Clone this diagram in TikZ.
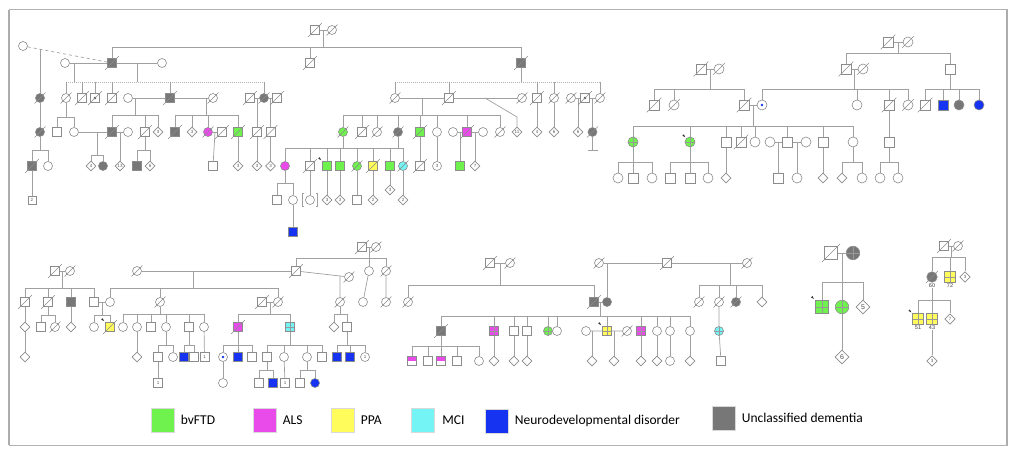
\documentclass[tikz,border=0pt]{standalone}
\usepackage{fontspec}
\setsansfont{Liberation Sans}
\newfontfamily\lgfont{Carlito}
\usepackage{tikz}
\usetikzlibrary{shapes}
\usetikzlibrary{shapes.geometric}
\usetikzlibrary{positioning}
\usetikzlibrary{backgrounds}

\definecolor{cBv}{HTML}{6FF24D}
\definecolor{cAl}{HTML}{E94BEA}
\definecolor{cPp}{HTML}{FFFC5C}
\definecolor{cMc}{HTML}{74F4F4}
\definecolor{cNd}{HTML}{1633F2}
\definecolor{cUd}{HTML}{777777}
\definecolor{cLn}{HTML}{A0A0A0}
\definecolor{cSy}{HTML}{8C8C8C}

% names of the deceased, slashed at the end
\gdef\dclist{}

\tikzset{
  sym/.style={draw=cSy, fill=white, line width=0.6pt, inner sep=0pt, minimum size=9pt},
  ml/.style={sym, rectangle},
  fe/.style={sym, circle},
  un/.style={sym, diamond, minimum size=10pt},
  md/.style={minimum size=10pt},
  sm/.style={minimum size=10.5pt},
  bg/.style={minimum size=13.5pt},
  bdi/.style={minimum size=14pt},
  bv/.style={fill=cBv}, al/.style={fill=cAl}, pp/.style={fill=cPp},
  mc/.style={fill=cMc}, nd/.style={fill=cNd}, ud/.style={fill=cUd},
  dc/.style={append after command={\pgfextra{%
      \ifx\dclist\empty\xdef\dclist{\tikzlastnode}\else\xdef\dclist{\dclist,\tikzlastnode}\fi}}},
  slash/.style={draw=cSy, line width=0.6pt},
  pb/.style={append after command={\pgfextra{\fill[black!80]
      ([shift={(-1,-1)}]\tikzlastnode.north west) -- ++(-3,-1.5) -- ++(1.5,-1.5) -- cycle;}}},
  cr/.style={path picture={\fill[#1] (path picture bounding box.center) circle (1.3pt);}},
  cr/.default=cNd,
  qd/.style={path picture={\draw[black!40, line width=0.4pt]
      (path picture bounding box.north) -- (path picture bounding box.south)
      (path picture bounding box.west) -- (path picture bounding box.east);}},
  hm/.style={path picture={\fill[cAl] (path picture bounding box.west) rectangle (path picture bounding box.north east);}},
  nm/.style={font=\sffamily\fontsize{4.5}{5}\selectfont, text=black!65},
  nm2/.style={font=\sffamily\fontsize{7}{8}\selectfont, text=black!70},
  lb/.style={font=\sffamily\fontsize{5.5}{6}\selectfont, text=black!75, inner sep=0.8pt, fill=white},
  ln/.style={draw=cLn, line width=0.7pt},
  lnd/.style={draw=cLn!80, line width=0.6pt, dash pattern=on 0.8pt off 1.2pt},
  frm/.style={draw=gray!60, line width=1pt},
  lgbox/.style={draw=gray!30, line width=0.3pt, minimum width=23pt, minimum height=24pt, inner sep=0pt},
  lgtxt/.style={font=\lgfont\fontsize{13.5}{16}\selectfont, inner sep=0pt}
}

\begin{document}
\begin{tikzpicture}[x=1pt, y=-1pt]
  \useasboundingbox (0,0) rectangle (1024,462);
  \begin{pgfonlayer}{background}
    \fill[white] (0,0) rectangle (1024,462);
  \end{pgfonlayer}
  \draw[frm] (9,10) rectangle (1007,445);
  \draw[gray!65, line width=2pt] (9,10) -- (9,445) (1007,10) -- (1007,445);

  % ---- large family, top left ----
  \node[ml,dc] (a1) at (315,30) {};
  \node[fe,dc] (a2) at (332,30) {};
  \node[fe] (a3) at (23,46) {};
  \node[fe] (a4) at (65,63) {};
  \node[ml,ud,dc] (a5) at (112,63) {};
  \node[fe] (a6) at (162,63) {};
  \node[ml,dc] (a7) at (310,63) {};
  \node[ml,ud,dc] (a8) at (521,63) {};

  \node[fe,ud,dc] (b1) at (40,98) {};
  \node[fe,dc] (b2) at (66,98) {};
  \node[ml,dc] (b3) at (82,98) {};
  \node[ml,dc,cr=black!70] (b4) at (95,98) {};
  \node[ml,dc] (b5) at (112,98) {};
  \node[fe] (b6) at (128,98) {};
  \node[ml,ud,dc] (b7) at (170,98) {};
  \node[fe,dc] (b8) at (213,98) {};
  \node[ml,dc] (b9) at (250,98) {};
  \node[fe,ud,dc] (b10) at (264,98) {};
  \node[ml,dc] (b11) at (277,98) {};
  \node[fe,dc] (b12) at (395,98) {};
  \node[ml,dc] (b13) at (449,98) {};
  \node[fe,dc] (b14) at (522,98) {};
  \node[ml,dc] (b15) at (537,98) {};
  \node[fe,dc] (b16) at (554,98) {};
  \node[fe,dc] (b17) at (571,98) {};
  \node[ml,dc,cr=black!70] (b18) at (585,98) {};
  \node[fe,dc] (b19) at (600,98) {};

  \node[fe,ud,dc] (c1) at (40,132) {};
  \node[ml] (c2) at (57,132) {};
  \node[fe] (c3) at (74,132) {};
  \node[ml,ud,dc] (c4) at (112,132) {};
  \node[fe] (c5) at (128,132) {};
  \node[ml,dc] (c6) at (145,132) {};
  \node[un,nm] (c7) at (158,132) {3};
  \node[ml,ud,dc] (c8) at (175,132) {};
  \node[un,nm] (c9) at (192,132) {3};
  \node[fe,al,dc] (c10) at (208,132) {};
  \node[ml,dc] (c11) at (222,132) {};
  \node[ml,bv,dc] (c12) at (238,132) {};
  \node[ml,dc] (c13) at (257,132) {};
  \node[ml,dc] (c14) at (270.5,132) {};
  \node[fe,bv,dc] (c15) at (343,132) {};
  \node[ml,dc] (c16) at (362,132) {};
  \node[fe,dc] (c17) at (377,132) {};
  \node[fe,ud,dc] (c18) at (398,132) {};
  \node[ml,bv,dc] (c19) at (420,132) {};
  \node[fe] (c20) at (437,132) {};
  \node[fe] (c21) at (453,132) {};
  \node[ml,al,dc] (c22) at (467,132) {};
  \node[fe] (c23) at (483,132) {};
  \node[fe,dc] (c24) at (500,132) {};
  \node[un,nm] (c25) at (517,132) {11};
  \node[un,nm] (c26) at (537,132) {4};
  \node[un,nm] (c27) at (554,132) {6};
  \node[un,nm] (c28) at (578,132) {6};
  \node[fe,ud,dc] (c29) at (592.5,132) {};

  \node[ml,ud,dc] (d1) at (32,166) {};
  \node[fe] (d2) at (48,166) {};
  \node[un,nm] (d3) at (91,166) {4};
  \node[fe,ud] (d4) at (103,166) {};
  \node[un,nm] (d5) at (120,166) {13};
  \node[ml,ud] (d6) at (137,166) {};
  \node[un,nm] (d7) at (150,166) {6};
  \node[ml] (d8) at (213,166) {};
  \node[un,nm] (d9) at (238,166) {3};
  \node[un,nm] (d10) at (257,166) {3};
  \node[un,nm] (d11) at (270.5,166) {3};
  \node[fe,al] (d12) at (285,166) {};
  \node[ml,dc] (d13) at (310,166) {};
  \node[ml,bv,pb] (d14) at (327,166) {};
  \node[ml,bv] (d15) at (340,166) {};
  \node[fe,bv,dc] (d16) at (357,166) {};
  \node[ml,pp,dc] (d17) at (373,166) {};
  \node[ml,bv] (d18) at (390,166) {};
  \node[fe,mc,dc] (d19) at (403,166) {};
  \node[ml,dc] (d20) at (420,166) {};
  \node[fe,nm] (d21) at (437,166) {3};
  \node[ml,bv] (d22) at (460,166) {};
  \node[un,nm] (d23) at (475,166) {7};

  \node[ml,nm,minimum size=8pt] (e1) at (32,200) {2};
  \node[ml] (e2) at (277,200) {};
  \node[fe] (e3) at (293,200) {};
  \node[fe] (e4) at (310,200) {};
  \node[un,nm] (e5) at (327,200) {3};
  \node[un,nm] (e6) at (340,200) {3};
  \node[ml] (e7) at (357,200) {};
  \node[un,nm] (e8) at (373,200) {2};
  \node[un,nm] (e9) at (390,190) {3};
  \node[un,nm] (e10) at (403,200) {2};
  \node[ml,nd] (f1) at (293,232) {};

  \begin{pgfonlayer}{background}
    \draw[ln] (a1) -- (a2);
    \coordinate (s0) at (323,47);
    \draw[ln] (s0) -- (s0 |- a1);
    \foreach \ch in {a5,a7,a8} \draw[ln] (s0) -| (\ch);
    \draw[ln,dashed] (a3) -- (a5);
    \coordinate (k1) at (40,49.5);
    \draw[ln] (k1) -- (b1) (b1) -- (c1);
    \coordinate (s1) at (40,150);
    \draw[ln] (c1) -- (s1);
    \foreach \ch in {d1,d2} \draw[ln] (s1) -| (\ch);
    \draw[ln] (d1) -- (e1);
    \draw[ln] (a4) -- (a5) (a5) -- (a6);
    \coordinate (s2) at (74,82);
    \coordinate (s3) at (137,82);
    \draw[ln] (s2) -- (s2 |- a4) (s3) -- (s3 |- a5);
    \draw[lnd] (b2 |- s2) -- (b10 |- s2);
    \foreach \ch in {b2,b3,b4,b5,b7,b10} \draw[ln] (\ch |- s2) -- (\ch);
    \draw[ln] (b6) -- (b7) (b7) -- (b8) (b9) -- (b10) (b10) -- (b11);
    \coordinate (s4) at (135,115);
    \draw[ln] (s4) -- (s4 |- b6);
    \foreach \ch in {c4,c6,c7} \draw[ln] (s4) -| (\ch);
    \coordinate (s5) at (206,115);
    \draw[ln] (s5) -- (s5 |- b7);
    \foreach \ch in {c8,c9,c10,c12} \draw[ln] (s5) -| (\ch);
    \coordinate (s6) at (66,117);
    \draw[ln] (b2) -- (s6);
    \foreach \ch in {c2,c3} \draw[ln] (s6) -| (\ch);
    \draw[ln] (c3) -- (c4) (c4) -- (c5);
    \coordinate (s7) at (97,155);
    \draw[ln] (s7) -- (s7 |- c3);
    \foreach \ch in {d3,d4} \draw[ln] (s7) -| (\ch);
    \coordinate (m1) at (120,132);
    \draw[ln] (m1) -- (d5);
    \coordinate (s8) at (145,150);
    \draw[ln] (c6) -- (s8);
    \foreach \ch in {d6,d7} \draw[ln] (s8) -| (\ch);
    \draw[ln] (c10) -- (c11);
    \coordinate (m2) at (215,132);
    \draw[ln] (m2) -- (d8);
    \draw[ln] (c12) -- (d9);
    \coordinate (m3) at (257,98);
    \coordinate (m4) at (270.5,98);
    \draw[ln] (m3) -- (c13) (m4) -- (c14) (c13) -- (d10) (c14) -- (d11);
    \draw[ln,double,double distance=1pt] (b12) -- (b13);
    \draw[ln] (b13) -- (b14);
    \coordinate (s9) at (521,82);
    \draw[ln] (a8) -- (s9);
    \draw[lnd] (b12 |- s9) -- (b19 |- s9);
    \foreach \ch in {b12,b13,b15,b16,b19} \draw[ln] (\ch |- s9) -- (\ch);
    \coordinate (s10) at (422,115);
    \draw[ln] (s10) -- (s10 |- b12);
    \foreach \ch in {c15,c16,c17,c18,c19,c20,c22,c24} \draw[ln] (s10) -| (\ch);
    \coordinate (k2) at (485,98);
    \coordinate (k3) at (517,117);
    \draw[ln] (k2) -- (k3) -- (c25);
    \draw[ln] (b15) -- (c26) (b16) -- (c27);
    \draw[ln] (b17) -- (b18) (b18) -- (b19);
    \coordinate (m5) at (578,98);
    \coordinate (m6) at (592.5,98);
    \draw[ln] (m5) -- (c28) (m6) -- (c29);
    \coordinate (t1) at (592.5,150);
    \draw[ln] (c29) -- (t1) ([xshift=-5pt]t1) -- ([xshift=5pt]t1);
    \draw[ln] (c21) -- (c22) (c22) -- (c23);
    \coordinate (m7) at (460,132);
    \coordinate (m8) at (475,132);
    \draw[ln] (m7) -- (d22) (m8) -- (d23);
    \coordinate (s11) at (343,148);
    \draw[ln] (c15) -- (s11) (c18) -- (c18 |- s11);
    \foreach \ch in {d12,d13,d14,d15,d16,d17,d18,d19} \draw[ln] (s11) -| (\ch);
    \draw[ln] (c19) -- (d20) (c20) -- (d21);
    \coordinate (s12) at (285,183);
    \draw[ln] (d12) -- (s12);
    \foreach \ch in {e2,e3} \draw[ln] (s12) -| (\ch);
    \draw[ln] (e3) -- (f1);
    \draw[ln] (d13) -- (e4) (d14) -- (e5) (d15) -- (e6) (d16) -- (e7)
      (d17) -- (e8) (d18) -- (e9) (d19) -- (e10);
  \end{pgfonlayer}
  % adopted
  \draw[ln] ([shift={(-1,-6.5)}]e4.west) -- ++(-2,0) -- ++(0,13) -- ++(2,0);
  \draw[ln] ([shift={(1,-6.5)}]e4.east) -- ++(2,0) -- ++(0,13) -- ++(-2,0);

  % ---- family, top right ----
  \node[ml,md,dc] (r1) at (888,42) {};
  \node[fe,md,dc] (r2) at (908,42) {};
  \node[ml,md,dc] (r3) at (846,69) {};
  \node[fe,md,dc] (r4) at (863,69) {};
  \node[ml,md] (r5) at (950,69) {};
  \node[ml,md,dc] (r6) at (701,69) {};
  \node[fe,md,dc] (r7) at (719,69) {};
  \node[ml,md,dc] (r8) at (654,105) {};
  \node[fe,md,dc] (r9) at (674,105) {};
  \node[ml,md,dc] (r10) at (744,105) {};
  \node[fe,md,cr] (r11) at (762,105) {};
  \node[fe,md] (r12) at (857,105) {};
  \node[ml,md,dc] (r13) at (889,105) {};
  \node[fe,md,dc] (r14) at (908,105) {};
  \node[ml,md,dc] (r15) at (925,105) {};
  \node[ml,md,nd] (r16) at (943,105) {};
  \node[fe,md,ud] (r17) at (959,105) {};
  \node[fe,md,nd] (r18) at (979,105) {};
  \node[fe,md,bv,qd] (r19) at (633,142) {};
  \node[fe,md,bv,qd,pb] (r20) at (690,142) {};
  \node[ml,md] (r21) at (726,142) {};
  \node[ml,md,dc] (r22) at (741,142) {};
  \node[fe,md] (r23) at (755,142) {};
  \node[fe,md] (r24) at (770,142) {};
  \node[ml,md] (r25) at (787,142) {};
  \node[fe,md] (r26) at (806,142) {};
  \node[ml,md] (r27) at (823,142) {};
  \node[fe,md] (r28) at (853,142) {};
  \node[ml,md] (r29) at (889,142) {};
  \node[fe,md] (r30) at (618,178) {};
  \node[ml,md] (r31) at (633,178) {};
  \node[fe,md] (r32) at (652,178) {};
  \node[ml,md] (r33) at (670,178) {};
  \node[ml,md] (r34) at (690,178) {};
  \node[fe,md] (r35) at (708,178) {};
  \node[un,md] (r36) at (726,178) {};
  \node[ml,md] (r37) at (778,178) {};
  \node[fe,md] (r38) at (797,178) {};
  \node[un,md] (r39) at (823,178) {};
  \node[un,md] (r40) at (842,178) {};
  \node[fe,md] (r41) at (862,178) {};
  \node[fe,md] (r42) at (880,178) {};
  \node[fe,md] (r43) at (898,178) {};

  \begin{pgfonlayer}{background}
    \draw[ln] (r1) -- (r2) (r6) -- (r7) (r3) -- (r4) (r10) -- (r11)
      (r24) -- (r25) (r25) -- (r26);
    \coordinate (s20) at (898,53);
    \draw[ln] (s20) -- (s20 |- r1);
    \foreach \ch in {r3,r5} \draw[ln] (s20) -| (\ch);
    \coordinate (s21) at (710,89);
    \draw[ln] (s21) -- (s21 |- r6);
    \foreach \ch in {r8,r9,r10} \draw[ln] (s21) -| (\ch);
    \coordinate (s22) at (854.5,89);
    \draw[ln] (s22) -- (s22 |- r3);
    \foreach \ch in {r11,r12,r13,r14} \draw[ln] (s22) -| (\ch);
    \coordinate (s23) at (950,89);
    \draw[ln] (r5) -- (s23);
    \foreach \ch in {r15,r16,r17,r18} \draw[ln] (s23) -| (\ch);
    \coordinate (s24) at (753,126);
    \draw[ln] (s24) -- (s24 |- r10);
    \foreach \ch in {r19,r20,r21,r22,r23,r25,r27,r28} \draw[ln] (s24) -| (\ch);
    \draw[ln] (r13) -- (r29);
    \coordinate (s25) at (633,162);
    \draw[ln] (r19) -- (s25);
    \foreach \ch in {r30,r31,r32} \draw[ln] (s25) -| (\ch);
    \coordinate (s26) at (690,162);
    \draw[ln] (r20) -- (s26);
    \foreach \ch in {r33,r34,r35} \draw[ln] (s26) -| (\ch);
    \draw[ln] (r21) -- (r36) (r27) -- (r39);
    \coordinate (m20) at (778,142);
    \coordinate (m21) at (797,142);
    \draw[ln] (m20) -- (r37) (m21) -- (r38);
    \coordinate (s27) at (853,162);
    \draw[ln] (r28) -- (s27);
    \foreach \ch in {r40,r41} \draw[ln] (s27) -| (\ch);
    \coordinate (s28) at (889,162);
    \draw[ln] (r29) -- (s28);
    \foreach \ch in {r42,r43} \draw[ln] (s28) -| (\ch);
  \end{pgfonlayer}

  % ---- family, bottom left ----
  \node[ml,dc] (p1) at (55,271) {};
  \node[fe,dc] (p2) at (70,271) {};
  \node[ml,dc] (p3) at (25,302) {};
  \node[ml,dc] (p4) at (48,302) {};
  \node[ml,ud] (p5) at (71,302) {};
  \node[ml] (p6) at (94,302) {};
  \node[fe] (p7) at (110,302) {};
  \node[fe,dc] (p8) at (137,271) {};
  \node[ml,dc] (p9) at (296,271) {};
  \node[fe,dc] (p10) at (160,302) {};
  \node[fe,dc] (p11) at (278,302) {};
  \node[ml,dc] (p12) at (262,302) {};
  \node[ml,dc] (p13) at (362,247) {};
  \node[fe,dc] (p14) at (376,247) {};
  \node[fe] (p15) at (369,271) {};
  \node[fe,dc] (p16) at (386,271) {};
  \node[fe,dc] (p17) at (349,277) {};
  \node[fe,dc] (p18) at (340,302) {};
  \node[fe] (p19) at (363,302) {};
  \node[fe,dc] (p20) at (386,302) {};
  \node[un] (p21) at (25,327) {};
  \node[ml] (p22) at (41,327) {};
  \node[fe,dc] (p23) at (55,327) {};
  \node[un] (p24) at (71,327) {};
  \node[fe] (p25) at (94,327) {};
  \node[ml,pp,dc,pb] (p26) at (110,327) {};
  \node[fe] (p27) at (123,327) {};
  \node[fe] (p28) at (137,327) {};
  \node[ml] (p29) at (151,327) {};
  \node[fe] (p30) at (166,327) {};
  \node[ml] (p31) at (189,327) {};
  \node[fe] (p32) at (204,327) {};
  \node[ml,al,dc] (p33) at (238,327) {};
  \node[ml,mc,qd] (p34) at (290,327) {};
  \node[un] (p35) at (334,327) {};
  \node[ml] (p36) at (347,327) {};
  \node[un] (p37) at (25,357) {};
  \node[un] (p38) at (137,357) {};
  \node[ml] (p39) at (158,357) {};
  \node[fe] (p40) at (173,357) {};
  \node[ml,nd] (p41) at (184,357) {};
  \node[ml] (p42) at (194,357) {};
  \node[ml,nm] (p43) at (204.5,357) {1};
  \node[fe,cr] (p44) at (223,357) {};
  \node[ml,nd] (p45) at (238,357) {};
  \node[ml] (p46) at (252,357) {};
  \node[ml] (p47) at (267,357) {};
  \node[fe] (p48) at (284,357) {};
  \node[fe] (p49) at (307,357) {};
  \node[ml] (p50) at (322,357) {};
  \node[ml,nd] (p51) at (337,357) {};
  \node[ml,nd] (p52) at (350,357) {};
  \node[fe,nm] (p53) at (365,357) {1};
  \node[ml,nm] (p54) at (158,383) {1};
  \node[fe] (p55) at (223,383) {};
  \node[ml] (p56) at (259,383) {};
  \node[ml,nd] (p57) at (273,383) {};
  \node[ml,nm] (p58) at (285,383) {1};
  \node[ml] (p59) at (300,383) {};
  \node[fe,nd] (p60) at (315,383) {};

  \begin{pgfonlayer}{background}
    \draw[ln] (p1) -- (p2) (p6) -- (p7) (p8) -- (p9) (p12) -- (p11) (p13) -- (p14);
    \coordinate (s30) at (62.5,288);
    \draw[ln] (s30) -- (s30 |- p1);
    \foreach \ch in {p3,p4,p5,p6} \draw[ln] (s30) -| (\ch);
    \coordinate (s31) at (193,288);
    \draw[ln] (s31) -- (s31 |- p8);
    \foreach \ch in {p7,p10,p11} \draw[ln] (s31) -| (\ch);
    \coordinate (s32) at (369,258);
    \draw[ln] (s32) -- (s32 |- p13);
    \foreach \ch in {p9,p15,p16} \draw[ln] (s32) -| (\ch);
    \draw[ln] (p9) -- (p17);
    \coordinate (k30) at (340,276);
    \draw[ln] (k30) -- (p18) (p15) -- (p19) (p16) -- (p20);
    \coordinate (s33) at (102,315);
    \draw[ln] (s33) -- (s33 |- p6);
    \foreach \ch in {p25,p26} \draw[ln] (s33) -| (\ch);
    \draw[ln] (p3) -- (p21) (p21) -- (p37) (p5) -- (p24);
    \coordinate (s34) at (48,315);
    \draw[ln] (p4) -- (s34);
    \foreach \ch in {p22,p23} \draw[ln] (s34) -| (\ch);
    \coordinate (s35) at (160,314);
    \draw[ln] (p10) -- (s35);
    \foreach \ch in {p27,p28,p29,p30,p31,p32} \draw[ln] (s35) -| (\ch);
    \coordinate (s36) at (270,314);
    \draw[ln] (s36) -- (s36 |- p12);
    \foreach \ch in {p33,p34} \draw[ln] (s36) -| (\ch);
    \draw[ln] (p28) -- (p38);
    \coordinate (s37) at (166,345);
    \draw[ln] (p30) -- (s37);
    \foreach \ch in {p39,p40} \draw[ln] (s37) -| (\ch);
    \draw[ln] (p39) -- (p54);
    \coordinate (s38) at (189,345);
    \draw[ln] (p31) -- (s38);
    \foreach \ch in {p41,p42} \draw[ln] (s38) -| (\ch);
    \draw[ln] (p32) -- (p43);
    \coordinate (s39) at (238,345);
    \draw[ln] (p33) -- (s39);
    \foreach \ch in {p44,p45,p46} \draw[ln] (s39) -| (\ch);
    \draw[ln] (p44) -- (p55);
    \coordinate (s40) at (290,345);
    \draw[ln] (p34) -- (s40);
    \foreach \ch in {p47,p48,p49,p50} \draw[ln] (s40) -| (\ch);
    \coordinate (s41) at (267,370);
    \draw[ln] (p47) -- (s41);
    \foreach \ch in {p56,p57} \draw[ln] (s41) -| (\ch);
    \draw[ln] (p48) -- (p58);
    \coordinate (s42) at (307,370);
    \draw[ln] (p49) -- (s42);
    \foreach \ch in {p59,p60} \draw[ln] (s42) -| (\ch);
    \coordinate (s43) at (340,314);
    \draw[ln] (p18) -- (s43);
    \foreach \ch in {p35,p36} \draw[ln] (s43) -| (\ch);
    \coordinate (s44) at (347,345);
    \draw[ln] (p36) -- (s44);
    \foreach \ch in {p51,p52,p53} \draw[ln] (s44) -| (\ch);
  \end{pgfonlayer}

  % ---- family, bottom middle ----
  \node[ml,dc] (q1) at (490,263) {};
  \node[fe,dc] (q2) at (510,263) {};
  \node[fe,dc] (q3) at (408,302) {};
  \node[ml,ud,dc] (q4) at (594,302) {};
  \node[fe,dc] (q5) at (599,263) {};
  \node[ml,dc] (q6) at (667,263) {};
  \node[fe,dc] (q7) at (747,263) {};
  \node[fe,ud] (q8) at (607,302) {};
  \node[fe,dc] (q9) at (699,302) {};
  \node[fe,dc] (q10) at (719,302) {};
  \node[fe,ud,dc] (q11) at (736,302) {};
  \node[un] (q12) at (762,302) {};
  \node[ml,ud,dc] (q13) at (441,331) {};
  \node[ml,al,qd] (q14) at (494,331) {};
  \node[ml] (q15) at (514,331) {};
  \node[ml] (q16) at (527,331) {};
  \node[fe,bv,qd] (q17) at (548,331) {};
  \node[fe] (q18) at (557,331) {};
  \node[fe] (q19) at (586,331) {};
  \node[ml,pp,qd,pb] (q20) at (607,331) {};
  \node[fe,dc] (q21) at (627,331) {};
  \node[ml,al,qd] (q22) at (641,331) {};
  \node[fe] (q23) at (657,331) {};
  \node[fe] (q24) at (670,331) {};
  \node[fe] (q25) at (690,331) {};
  \node[fe,mc,qd] (q26) at (719,331) {};
  \node[ml,hm] (q27) at (412,361) {};
  \node[ml] (q28) at (428,361) {};
  \node[ml,hm] (q29) at (441,361) {};
  \node[ml] (q30) at (457,361) {};
  \node[fe] (q31) at (479,361) {};
  \node[un] (q32) at (494,361) {};
  \node[un] (q33) at (514,361) {};
  \node[un] (q34) at (527,361) {};
  \node[un] (q35) at (592,361) {};
  \node[un] (q36) at (614,361) {};
  \node[un] (q37) at (641,361) {};
  \node[un] (q38) at (657,361) {};
  \node[fe] (q39) at (670,361) {};
  \node[un] (q40) at (690,361) {};
  \node[ml] (q41) at (721,361) {};

  \begin{pgfonlayer}{background}
    \draw[ln] (q1) -- (q2) (q5) -- (q6) (q6) -- (q7) (q4) -- (q8);
    \coordinate (s50) at (500,285);
    \draw[ln] (s50) -- (s50 |- q1);
    \foreach \ch in {q3,q4} \draw[ln] (s50) -| (\ch);
    \coordinate (m50) at (607,263);
    \draw[ln] (m50) -- (q8);
    \coordinate (s51) at (730,285);
    \draw[ln] (s51) -- (s51 |- q6);
    \foreach \ch in {q9,q10,q11,q12} \draw[ln] (s51) -| (\ch);
    \coordinate (s52) at (600.5,316);
    \draw[ln] (s52) -- (s52 |- q4);
    \foreach \ch in {q13,q14,q15,q16,q17,q18,q20,q22,q23,q24,q25} \draw[ln] (s52) -| (\ch);
    \draw[ln] (q19) -- (q20) (q20) -- (q21) (q10) -- (q26) (q26) -- (q41);
    \coordinate (s53) at (441,346);
    \draw[ln] (q13) -- (s53);
    \foreach \ch in {q27,q28,q29,q30,q31} \draw[ln] (s53) -| (\ch);
    \draw[ln] (q14) -- (q32) (q15) -- (q33) (q16) -- (q34);
    \coordinate (m51) at (592,331);
    \coordinate (m52) at (614,331);
    \draw[ln] (m51) -- (q35) (m52) -- (q36);
    \draw[ln] (q22) -- (q37) (q23) -- (q38) (q24) -- (q39) (q25) -- (q40);
  \end{pgfonlayer}

  % ---- two small families, bottom right ----
  \node[ml,bg,dc] (w1) at (831,253) {};
  \node[fe,bg,ud,qd] (w2) at (853,253) {};
  \node[ml,bg,bv,qd,pb] (w3) at (822,307) {};
  \node[fe,bg,bv,qd] (w4) at (842,307) {};
  \node[un,bdi,nm2] (w5) at (863,307) {5};
  \node[un,bdi,nm2] (w6) at (842,357) {6};
  \node[ml,dc] (w7) at (944,246) {};
  \node[fe,dc] (w8) at (958,246) {};
  \node[fe,sm,ud,dc,label={[lb]below:60}] (w9) at (932,277) {};
  \node[ml,sm,pp,qd,label={[lb]below:72}] (w10) at (950,277) {};
  \node[un,sm,nm] (w11) at (965,277) {3};
  \node[ml,sm,pp,qd,pb,label={[lb]below:51}] (w12) at (918,319) {};
  \node[ml,sm,pp,qd,label={[lb]below:43}] (w13) at (932,319) {};
  \node[un,sm,nm] (w14) at (950,319) {7};
  \node[un,sm,nm] (w15) at (932,361) {3};

  \begin{pgfonlayer}{background}
    \draw[ln] (w1) -- (w2) (w7) -- (w8);
    \coordinate (s60) at (842,282);
    \draw[ln] (s60) -- (s60 |- w1);
    \foreach \ch in {w3,w4,w5} \draw[ln] (s60) -| (\ch);
    \draw[ln] (w4) -- (w6);
    \coordinate (s61) at (951,257);
    \draw[ln] (s61) -- (s61 |- w7);
    \foreach \ch in {w9,w10,w11} \draw[ln] (s61) -| (\ch);
    \coordinate (s62) at (932,300);
    \draw[ln] (w9) -- (s62);
    \foreach \ch in {w12,w13,w14} \draw[ln] (s62) -| (\ch);
    \draw[ln] (w13) -- (w15);
  \end{pgfonlayer}

  % slashes over every deceased person
  \foreach \ch in \dclist
    \draw[slash] ([shift={(-2,2)}]\ch.south west) -- ([shift={(2,-2)}]\ch.north east);

  % ---- legend ----
  \node[lgbox,fill=cBv] (k1) at (162.5,420) {};
  \node[lgtxt,right=6.5pt of k1] (l1) {bvFTD};
  \node[lgbox,fill=cAl] (k2) at (264.5,420) {};
  \node[lgtxt,right=6.5pt of k2] (l2) {ALS};
  \node[lgbox,fill=cPp] (k3) at (342.5,420) {};
  \node[lgtxt,right=6.5pt of k3] (l3) {PPA};
  \node[lgbox,fill=cMc] (k4) at (422.5,420) {};
  \node[lgtxt,right=8pt of k4] (l4) {MCI};
  \node[lgbox,fill=cNd] (k5) at (496.5,421) {};
  \node[lgtxt,right=6.5pt of k5] (l5) {Neurodevelopmental disorder};
  \node[lgbox,fill=cUd] (k6) at (723.5,418) {};
  \node[lgtxt,right=6.5pt of k6] (l6) {Unclassified dementia};
\end{tikzpicture}
\end{document}
